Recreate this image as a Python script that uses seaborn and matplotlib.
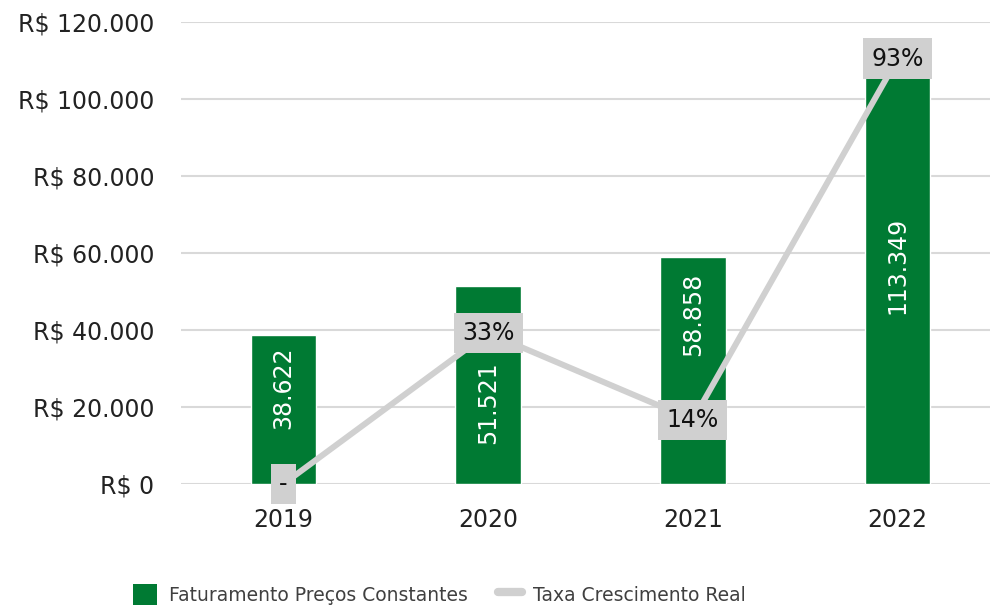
import numpy as np
import pandas as pd
import seaborn as sns
import matplotlib.pyplot as plt
from matplotlib.ticker import FuncFormatter
from matplotlib.patches import Patch
from matplotlib.lines import Line2D

# dados
anos = ['2019', '2020', '2021', '2022']
faturamento = [38622, 51521, 58858, 113349]
crescimento = [0.0, 0.33, 0.14, 0.93]
rotulos_cresc = ['-', '33%', '14%', '93%']

verde = '#007A33'
cinza = '#D0D0D0'

df = pd.DataFrame({'ano': anos, 'faturamento': faturamento, 'crescimento': crescimento})
df['pos'] = np.arange(len(df))

sns.set_style('white')
plt.rcParams['font.family'] = ['DejaVu Sans']

fig = plt.figure(figsize=(9.9, 6.13), dpi=100)
ax = fig.add_axes([181 / 990, 1 - 484 / 613, 819 / 990, 462 / 613])

sns.barplot(x='ano', y='faturamento', data=df, color=verde, width=0.32,
            saturation=1, ax=ax, zorder=2)

# rótulos das barras (posição vertical como no Excel, fração da altura)
frac_rotulo = [0.65, 0.41, 0.75, 0.5]
for i, v in enumerate(faturamento):
    ax.text(i, v * frac_rotulo[i], f'{v:,.0f}'.replace(',', '.'), rotation=90,
            ha='center', va='center', color='white', fontsize=17, zorder=3)

ax.set_ylim(0, 120000)
ax.set_yticks(range(0, 120001, 20000))
ax.yaxis.set_major_formatter(FuncFormatter(lambda v, p: f'R$ {v:,.0f}'.replace(',', '.')))
ax.set_xlim(-0.5, 3.5)
ax.grid(axis='y', color='#D9D9D9', linewidth=1.5, zorder=0)
ax.set_axisbelow(True)
ax.tick_params(axis='y', length=0, pad=19, labelsize=17, labelcolor='#222222')
ax.tick_params(axis='x', length=0, pad=17, labelsize=17, labelcolor='#222222')
ax.set_xlabel('')
ax.set_ylabel('')
sns.despine(ax=ax, left=True, bottom=True)

ax2 = ax.twinx()
sns.lineplot(x='pos', y='crescimento', data=df, color=cinza, linewidth=4.3, ax=ax2)
ax2.set_ylim(0, 1.01)
ax2.set_xlim(-0.5, 3.5)
ax2.axis('off')
for i, (v, t) in enumerate(zip(crescimento, rotulos_cresc)):
    ax2.text(i, v, t, ha='center', va='center', fontsize=17, color='#111111',
             clip_on=False, zorder=5,
             bbox=dict(boxstyle='square,pad=0.35', fc=cinza, ec='none'))

handles = [Patch(facecolor=verde, edgecolor='none'),
           Line2D([0], [0], color=cinza, linewidth=6)]
fig.legend(handles, ['Faturamento Preços Constantes', 'Taxa Crescimento Real'],
           loc='lower center', bbox_to_anchor=(0.444, -0.014), ncol=2, frameon=False,
           fontsize=13.5, labelcolor='#404040', handlelength=1.3, handleheight=1.3,
           handletextpad=0.6, columnspacing=1.6)

fig.savefig('out.png', dpi=100)
